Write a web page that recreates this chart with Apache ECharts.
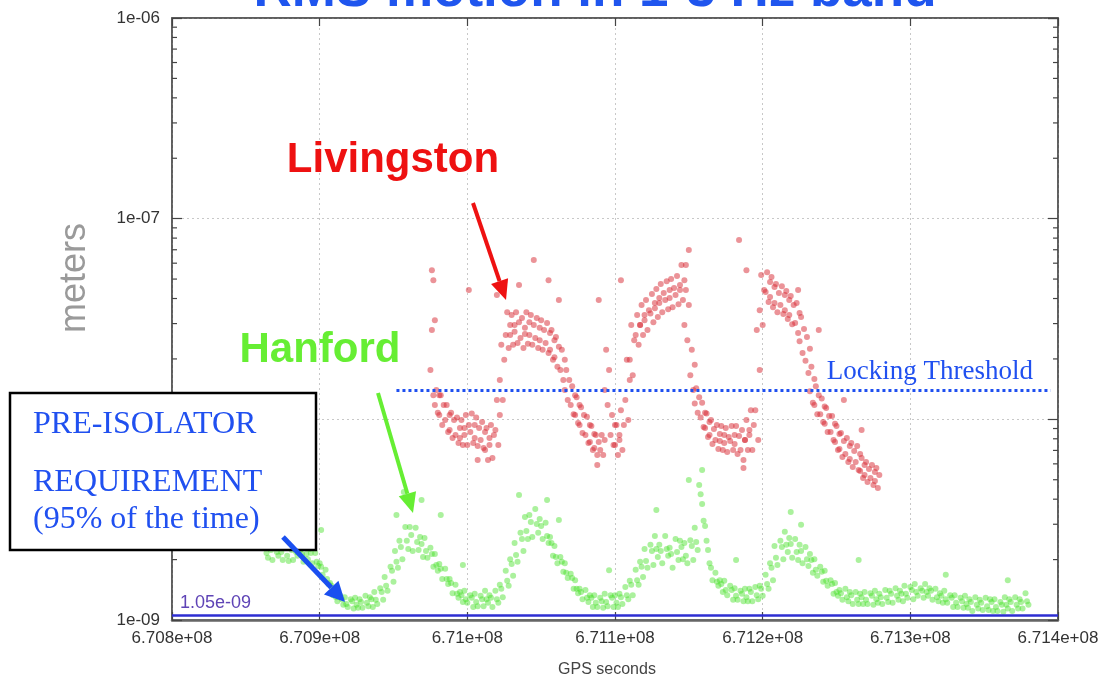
<!DOCTYPE html>
<html><head><meta charset="utf-8">
<script src="https://cdn.jsdelivr.net/npm/echarts@6/dist/echarts.min.js"></script>
<style>html,body{margin:0;padding:0;background:#fff}#c{width:1111px;height:691px}</style>
</head><body><div id="c"></div>
<script>
// ---- axis ticks & labels ----
const xTicks = [670800e3, 670900e3, 671000e3, 671100e3, 671200e3, 671300e3, 671400e3];
const xTickLabels = ['6.708e+08', '6.709e+08', '6.71e+08', '6.711e+08', '6.712e+08', '6.713e+08', '6.714e+08'];
const yTicks = [1e-9, 1e-8, 1e-7, 1e-6];
const yTickLabels = ['1e-09', '1e-08', '1e-07', '1e-06'];
const yMinorTicks = [2e-9,3e-9,4e-9,5e-9,6e-9,7e-9,8e-9,9e-9,2e-8,3e-8,4e-8,5e-8,6e-8,7e-8,8e-8,9e-8,2e-7,3e-7,4e-7,5e-7,6e-7,7e-7,8e-7,9e-7];

// ---- reference levels ----
const preIsolatorRequirement = 1.05e-9;
const lockingThreshold = 1.40e-8;
const lockingThresholdStart = 670952e3;
const lockingThresholdEnd = 671395e3;

// ---- Hanford RMS motion (GPS seconds, meters) ----
const hanford = [
[670863e3,2.39e-9],[670864e3,2.16e-9],[670865e3,2.04e-9],[670866e3,2.34e-9],[670867e3,2.23e-9],[670868e3,1.99e-9],
[670870e3,2.42e-9],[670871e3,2.18e-9],[670872e3,2.09e-9],[670873e3,2.29e-9],[670874e3,2.18e-9],[670875e3,1.99e-9],
[670877e3,2.31e-9],[670878e3,2.09e-9],[670879e3,1.97e-9],[670880e3,2.34e-9],[670881e3,2.23e-9],[670882e3,1.99e-9],
[670883e3,2.42e-9],[670884e3,2.18e-9],[670885e3,2.09e-9],[670887e3,2.23e-9],[670888e3,2.13e-9],[670889e3,1.95e-9],
[670890e3,2.37e-9],[670891e3,2.13e-9],[670892e3,2.01e-9],[670893e3,2.26e-9],[670894e3,2.16e-9],[670895e3,1.92e-9],
[670897e3,2.16e-9],[670898e3,1.95e-9],[670899e3,1.86e-9],[670900e3,1.92e-9],[670901e3,1.84e-9],[670902e3,1.68e-9],
[670904e3,1.78e-9],[670905e3,1.60e-9],[670906e3,1.51e-9],[670907e3,1.53e-9],[670908e3,1.48e-9],[670909e3,1.33e-9],
[670910e3,1.43e-9],[670911e3,1.30e-9],[670912e3,1.24e-9],[670914e3,1.32e-9],[670915e3,1.27e-9],[670916e3,1.19e-9],
[670917e3,1.30e-9],[670918e3,1.20e-9],[670919e3,1.16e-9],[670921e3,1.27e-9],[670922e3,1.24e-9],[670923e3,1.14e-9],
[670924e3,1.29e-9],[670925e3,1.19e-9],[670926e3,1.15e-9],[670927e3,1.27e-9],[670928e3,1.23e-9],[670929e3,1.15e-9],
[670931e3,1.32e-9],[670932e3,1.22e-9],[670933e3,1.17e-9],[670934e3,1.30e-9],[670935e3,1.27e-9],[670936e3,1.16e-9],
[670937e3,1.38e-9],[670938e3,1.26e-9],[670939e3,1.20e-9],[670941e3,1.44e-9],[670942e3,1.38e-9],[670943e3,1.26e-9],
[670944e3,1.64e-9],[670945e3,1.48e-9],[670946e3,1.40e-9],[670948e3,1.84e-9],[670949e3,1.76e-9],[670950e3,1.55e-9],
[670951e3,2.21e-9],[670952e3,1.95e-9],[670953e3,1.82e-9],[670954e3,2.48e-9],[670955e3,2.31e-9],[670956e3,2.01e-9],
[670958e3,2.91e-9],[670959e3,2.48e-9],[670960e3,2.26e-9],[670961e3,2.91e-9],[670962e3,2.65e-9],[670963e3,2.21e-9],
[670965e3,2.88e-9],[670966e3,2.45e-9],[670967e3,2.23e-9],[670968e3,2.59e-9],[670969e3,2.39e-9],[670970e3,2.06e-9],
[670971e3,2.56e-9],[670972e3,2.21e-9],[670973e3,2.04e-9],[670975e3,2.29e-9],[670976e3,2.13e-9],[670977e3,1.84e-9],
[670978e3,2.13e-9],[670979e3,1.88e-9],[670980e3,1.76e-9],[670981e3,1.90e-9],[670982e3,1.80e-9],[670983e3,1.60e-9],
[670985e3,1.80e-9],[670986e3,1.60e-9],[670987e3,1.51e-9],[670988e3,1.60e-9],[670989e3,1.53e-9],[670990e3,1.36e-9],
[670992e3,1.50e-9],[670993e3,1.35e-9],[670994e3,1.29e-9],[670995e3,1.38e-9],[670996e3,1.33e-9],[670997e3,1.23e-9],
[670998e3,1.40e-9],[670999e3,1.27e-9],[671000e3,1.22e-9],[671002e3,1.33e-9],[671003e3,1.29e-9],[671004e3,1.16e-9],
[671005e3,1.35e-9],[671006e3,1.23e-9],[671007e3,1.17e-9],[671009e3,1.32e-9],[671010e3,1.27e-9],[671011e3,1.17e-9],
[671012e3,1.40e-9],[671013e3,1.27e-9],[671014e3,1.22e-9],[671015e3,1.33e-9],[671016e3,1.29e-9],[671017e3,1.16e-9],
[671019e3,1.40e-9],[671020e3,1.27e-9],[671021e3,1.22e-9],[671022e3,1.50e-9],[671023e3,1.43e-9],[671024e3,1.30e-9],
[671026e3,1.76e-9],[671027e3,1.57e-9],[671028e3,1.48e-9],[671029e3,2.01e-9],[671030e3,1.90e-9],[671031e3,1.66e-9],
[671032e3,2.42e-9],[671033e3,2.11e-9],[671034e3,1.95e-9],[671036e3,2.72e-9],[671037e3,2.53e-9],[671038e3,2.21e-9],
[671039e3,3.26e-9],[671040e3,2.78e-9],[671041e3,2.53e-9],[671042e3,3.34e-9],[671043e3,3.08e-9],[671044e3,2.59e-9],
[671046e3,3.57e-9],[671047e3,3.01e-9],[671048e3,2.72e-9],[671049e3,3.19e-9],[671050e3,2.94e-9],[671051e3,2.53e-9],
[671053e3,3.05e-9],[671054e3,2.62e-9],[671055e3,2.42e-9],[671056e3,2.59e-9],[671057e3,2.42e-9],[671058e3,2.09e-9],
[671059e3,2.34e-9],[671060e3,2.06e-9],[671061e3,1.92e-9],[671063e3,2.06e-9],[671064e3,1.95e-9],[671065e3,1.74e-9],
[671066e3,1.92e-9],[671067e3,1.72e-9],[671068e3,1.62e-9],[671070e3,1.70e-9],[671071e3,1.62e-9],[671072e3,1.43e-9],
[671073e3,1.58e-9],[671074e3,1.43e-9],[671075e3,1.36e-9],[671076e3,1.43e-9],[671077e3,1.38e-9],[671078e3,1.27e-9],
[671080e3,1.41e-9],[671081e3,1.29e-9],[671082e3,1.23e-9],[671083e3,1.33e-9],[671084e3,1.29e-9],[671085e3,1.16e-9],
[671086e3,1.33e-9],[671087e3,1.22e-9],[671088e3,1.16e-9],[671090e3,1.29e-9],[671091e3,1.24e-9],[671092e3,1.15e-9],
[671093e3,1.35e-9],[671094e3,1.23e-9],[671095e3,1.17e-9],[671097e3,1.33e-9],[671098e3,1.29e-9],[671099e3,1.16e-9],
[671100e3,1.33e-9],[671101e3,1.22e-9],[671102e3,1.16e-9],[671103e3,1.35e-9],[671104e3,1.30e-9],[671105e3,1.20e-9],
[671107e3,1.46e-9],[671108e3,1.33e-9],[671109e3,1.27e-9],[671110e3,1.57e-9],[671111e3,1.50e-9],[671112e3,1.33e-9],
[671114e3,1.78e-9],[671115e3,1.58e-9],[671116e3,1.50e-9],[671117e3,1.95e-9],[671118e3,1.84e-9],[671119e3,1.64e-9],
[671120e3,2.26e-9],[671121e3,1.97e-9],[671122e3,1.82e-9],[671124e3,2.37e-9],[671125e3,2.21e-9],[671126e3,1.88e-9],
[671127e3,2.62e-9],[671128e3,2.26e-9],[671129e3,2.06e-9],[671130e3,2.37e-9],[671131e3,2.21e-9],[671132e3,1.92e-9],
[671134e3,2.62e-9],[671135e3,2.26e-9],[671136e3,2.09e-9],[671137e3,2.29e-9],[671138e3,2.13e-9],[671139e3,1.82e-9],
[671141e3,2.53e-9],[671142e3,2.18e-9],[671143e3,1.99e-9],[671144e3,2.48e-9],[671145e3,2.31e-9],[671146e3,2.01e-9],
[671147e3,2.42e-9],[671148e3,2.09e-9],[671149e3,1.92e-9],[671151e3,2.50e-9],[671152e3,2.34e-9],[671153e3,1.99e-9],
[671154e3,2.88e-9],[671155e3,2.45e-9],[671156e3,2.23e-9],[671158e3,4.23e-9],[671159e3,3.78e-9],[671160e3,3.12e-9],
[671161e3,2.94e-9],[671162e3,2.48e-9],[671163e3,2.23e-9],[671164e3,1.92e-9],[671165e3,1.82e-9],[671166e3,1.58e-9],
[671168e3,1.72e-9],[671169e3,1.55e-9],[671170e3,1.48e-9],[671171e3,1.58e-9],[671172e3,1.51e-9],[671173e3,1.38e-9],
[671174e3,1.57e-9],[671175e3,1.41e-9],[671176e3,1.33e-9],[671178e3,1.48e-9],[671179e3,1.41e-9],[671180e3,1.26e-9],
[671181e3,1.44e-9],[671182e3,1.32e-9],[671183e3,1.26e-9],[671185e3,1.40e-9],[671186e3,1.35e-9],[671187e3,1.24e-9],
[671188e3,1.43e-9],[671189e3,1.30e-9],[671190e3,1.24e-9],[671191e3,1.43e-9],[671192e3,1.38e-9],[671193e3,1.24e-9],
[671195e3,1.46e-9],[671196e3,1.33e-9],[671197e3,1.27e-9],[671198e3,1.48e-9],[671199e3,1.43e-9],[671200e3,1.32e-9],
[671202e3,1.68e-9],[671203e3,1.51e-9],[671204e3,1.43e-9],[671205e3,1.92e-9],[671206e3,1.82e-9],[671207e3,1.58e-9],
[671208e3,2.34e-9],[671209e3,2.04e-9],[671210e3,1.88e-9],[671212e3,2.48e-9],[671213e3,2.31e-9],[671214e3,2.01e-9],
[671215e3,2.75e-9],[671216e3,2.37e-9],[671217e3,2.18e-9],[671218e3,2.56e-9],[671219e3,2.39e-9],[671220e3,2.04e-9],
[671222e3,2.53e-9],[671223e3,2.18e-9],[671224e3,1.99e-9],[671225e3,2.37e-9],[671226e3,2.21e-9],[671227e3,1.92e-9],
[671229e3,2.31e-9],[671230e3,2.01e-9],[671231e3,1.86e-9],[671232e3,2.13e-9],[671233e3,1.99e-9],[671234e3,1.72e-9],
[671235e3,2.01e-9],[671236e3,1.78e-9],[671237e3,1.66e-9],[671239e3,1.84e-9],[671240e3,1.74e-9],[671241e3,1.55e-9],
[671242e3,1.76e-9],[671243e3,1.57e-9],[671244e3,1.48e-9],[671246e3,1.58e-9],[671247e3,1.51e-9],[671248e3,1.35e-9],
[671249e3,1.53e-9],[671250e3,1.38e-9],[671251e3,1.32e-9],[671252e3,1.41e-9],[671253e3,1.36e-9],[671254e3,1.26e-9],
[671256e3,1.43e-9],[671257e3,1.30e-9],[671258e3,1.24e-9],[671259e3,1.38e-9],[671260e3,1.33e-9],[671261e3,1.20e-9],
[671263e3,1.38e-9],[671264e3,1.26e-9],[671265e3,1.20e-9],[671266e3,1.35e-9],[671267e3,1.30e-9],[671268e3,1.20e-9],
[671269e3,1.38e-9],[671270e3,1.26e-9],[671271e3,1.20e-9],[671273e3,1.36e-9],[671274e3,1.32e-9],[671275e3,1.19e-9],
[671276e3,1.40e-9],[671277e3,1.27e-9],[671278e3,1.22e-9],[671279e3,1.35e-9],[671280e3,1.30e-9],[671281e3,1.20e-9],
[671283e3,1.41e-9],[671284e3,1.29e-9],[671285e3,1.23e-9],[671286e3,1.40e-9],[671287e3,1.35e-9],[671288e3,1.22e-9],
[671290e3,1.44e-9],[671291e3,1.32e-9],[671292e3,1.26e-9],[671293e3,1.40e-9],[671294e3,1.35e-9],[671295e3,1.24e-9],
[671296e3,1.48e-9],[671297e3,1.35e-9],[671298e3,1.29e-9],[671300e3,1.46e-9],[671301e3,1.41e-9],[671302e3,1.27e-9],
[671303e3,1.51e-9],[671304e3,1.38e-9],[671305e3,1.32e-9],[671307e3,1.44e-9],[671308e3,1.40e-9],[671309e3,1.29e-9],
[671310e3,1.51e-9],[671311e3,1.38e-9],[671312e3,1.32e-9],[671313e3,1.44e-9],[671314e3,1.40e-9],[671315e3,1.26e-9],
[671317e3,1.43e-9],[671318e3,1.30e-9],[671319e3,1.24e-9],[671320e3,1.36e-9],[671321e3,1.32e-9],[671322e3,1.22e-9],
[671323e3,1.40e-9],[671324e3,1.27e-9],[671325e3,1.22e-9],[671327e3,1.33e-9],[671328e3,1.29e-9],[671329e3,1.16e-9],
[671330e3,1.33e-9],[671331e3,1.22e-9],[671332e3,1.16e-9],[671334e3,1.29e-9],[671335e3,1.24e-9],[671336e3,1.15e-9],
[671337e3,1.32e-9],[671338e3,1.20e-9],[671339e3,1.15e-9],[671340e3,1.27e-9],[671341e3,1.23e-9],[671342e3,1.11e-9],
[671344e3,1.30e-9],[671345e3,1.19e-9],[671346e3,1.14e-9],[671347e3,1.26e-9],[671348e3,1.22e-9],[671349e3,1.12e-9],
[671351e3,1.29e-9],[671352e3,1.17e-9],[671353e3,1.12e-9],[671354e3,1.27e-9],[671355e3,1.23e-9],[671356e3,1.11e-9],
[671357e3,1.27e-9],[671358e3,1.16e-9],[671359e3,1.11e-9],[671361e3,1.23e-9],[671362e3,1.19e-9],[671363e3,1.10e-9],
[671364e3,1.30e-9],[671365e3,1.19e-9],[671366e3,1.14e-9],[671367e3,1.27e-9],[671368e3,1.23e-9],[671369e3,1.11e-9],
[671371e3,1.30e-9],[671372e3,1.19e-9],[671373e3,1.14e-9],[671374e3,1.27e-9],[671375e3,1.23e-9],[671376e3,1.14e-9],
[671378e3,1.36e-9],[671379e3,1.24e-9],[671380e3,1.19e-9],
[670952e3,3.34e-9],[670957e3,4.34e-9],[670969e3,3.96e-9],[670982e3,3.34e-9],[671035e3,4.20e-9],[671054e3,3.96e-9],
[671062e3,3.15e-9],[671128e3,3.53e-9],[671150e3,4.98e-9],[671159e3,5.59e-9],[671157e3,4.71e-9],[671219e3,3.45e-9],
[671226e3,2.98e-9],[671265e3,1.99e-9],[671324e3,1.68e-9],[671366e3,1.58e-9],[670901e3,2.81e-9],[670997e3,1.88e-9],
[671096e3,1.77e-9],[671182e3,1.99e-9]
];

// ---- Livingston RMS motion (GPS seconds, meters) ----
const livingston = [
[670976e3,5.54e-8],[670978e3,3.12e-8],[670975e3,1.76e-8],[670977e3,1.32e-8],
[670979e3,1.40e-8],[670981e3,1.32e-8],[670978e3,1.18e-8],[670980e3,1.08e-8],
[670982e3,1.32e-8],[670984e3,1.18e-8],[670981e3,1.05e-8],[670983e3,9.37e-9],
[670986e3,1.18e-8],[670988e3,1.05e-8],[670985e3,9.92e-9],[670987e3,8.65e-9],
[670989e3,1.08e-8],[670991e3,9.92e-9],[670988e3,8.85e-9],[670990e3,8.08e-9],
[670993e3,1.02e-8],[670995e3,9.05e-9],[670992e3,8.35e-9],[670994e3,7.62e-9],
[670996e3,9.92e-9],[670998e3,9.05e-9],[670995e3,8.08e-9],[670997e3,7.45e-9],
[670999e3,1.05e-8],[671001e3,9.37e-9],[670998e3,8.35e-9],[671000e3,7.45e-9],
[671003e3,1.07e-8],[671005e3,9.37e-9],[671002e3,8.65e-9],[671004e3,7.62e-9],
[671006e3,1.02e-8],[671008e3,9.05e-9],[671005e3,8.08e-9],[671007e3,7.36e-9],
[671010e3,9.70e-9],[671012e3,8.65e-9],[671009e3,7.89e-9],[671011e3,7.20e-9],
[671013e3,9.05e-9],[671015e3,8.08e-9],[671012e3,7.03e-9],[671014e3,6.27e-9],
[671016e3,9.37e-9],[671018e3,8.35e-9],[671015e3,7.45e-9],[671017e3,6.42e-9],
[671020e3,1.25e-8],[671022e3,1.05e-8],[671019e3,8.85e-9],[671021e3,7.45e-9],
[671023e3,2.35e-8],[671025e3,1.98e-8],[671022e3,1.57e-8],[671024e3,1.25e-8],
[671027e3,3.42e-8],[671029e3,2.95e-8],[671026e3,2.63e-8],[671028e3,2.27e-8],
[671030e3,3.31e-8],[671032e3,2.95e-8],[671029e3,2.63e-8],[671031e3,2.35e-8],
[671033e3,3.42e-8],[671035e3,3.05e-8],[671032e3,2.73e-8],[671034e3,2.40e-8],
[671037e3,3.20e-8],[671039e3,2.86e-8],[671036e3,2.54e-8],[671038e3,2.27e-8],
[671040e3,3.42e-8],[671042e3,3.05e-8],[671039e3,2.66e-8],[671041e3,2.38e-8],
[671043e3,3.31e-8],[671045e3,2.95e-8],[671042e3,2.63e-8],[671044e3,2.35e-8],
[671047e3,3.20e-8],[671049e3,2.86e-8],[671046e3,2.54e-8],[671048e3,2.27e-8],
[671050e3,3.12e-8],[671052e3,2.79e-8],[671049e3,2.48e-8],[671051e3,2.22e-8],
[671054e3,3.02e-8],[671056e3,2.69e-8],[671053e3,2.40e-8],[671055e3,2.14e-8],
[671057e3,2.79e-8],[671059e3,2.48e-8],[671056e3,2.22e-8],[671058e3,1.98e-8],
[671060e3,2.57e-8],[671062e3,2.30e-8],[671059e3,2.04e-8],[671061e3,1.83e-8],
[671064e3,2.22e-8],[671066e3,1.98e-8],[671063e3,1.76e-8],[671065e3,1.57e-8],
[671067e3,1.76e-8],[671069e3,1.57e-8],[671066e3,1.40e-8],[671068e3,1.25e-8],
[671071e3,1.46e-8],[671073e3,1.32e-8],[671070e3,1.18e-8],[671072e3,1.06e-8],
[671074e3,1.29e-8],[671076e3,1.18e-8],[671073e3,1.05e-8],[671075e3,9.59e-9],
[671077e3,1.15e-8],[671079e3,1.05e-8],[671076e3,9.37e-9],[671078e3,8.54e-9],
[671081e3,1.03e-8],[671083e3,9.37e-9],[671080e3,8.35e-9],[671082e3,7.62e-9],
[671084e3,9.26e-9],[671086e3,8.45e-9],[671083e3,7.71e-9],[671085e3,7.03e-9],
[671087e3,8.35e-9],[671089e3,7.71e-9],[671086e3,7.20e-9],[671088e3,6.64e-9],
[671091e3,8.35e-9],[671093e3,7.89e-9],[671090e3,7.03e-9],[671092e3,6.64e-9],
[671094e3,2.22e-8],[671096e3,1.76e-8],[671093e3,1.40e-8],[671095e3,1.18e-8],
[671098e3,1.05e-8],[671100e3,9.37e-9],[671097e3,8.35e-9],[671099e3,7.45e-9],
[671101e3,9.37e-9],[671103e3,8.35e-9],[671100e3,7.45e-9],[671102e3,6.64e-9],
[671104e3,1.11e-8],[671106e3,9.37e-9],[671103e3,7.89e-9],[671105e3,7.03e-9],
[671108e3,1.98e-8],[671110e3,1.57e-8],[671107e3,1.25e-8],[671109e3,9.92e-9],
[671111e3,2.95e-8],[671113e3,2.48e-8],[671110e3,1.98e-8],[671112e3,1.66e-8],
[671115e3,3.31e-8],[671117e3,2.95e-8],[671114e3,2.63e-8],[671116e3,2.35e-8],
[671118e3,3.71e-8],[671120e3,3.31e-8],[671117e3,2.95e-8],[671119e3,2.63e-8],
[671121e3,3.93e-8],[671123e3,3.50e-8],[671120e3,3.12e-8],[671122e3,2.79e-8],
[671125e3,4.21e-8],[671127e3,3.80e-8],[671124e3,3.37e-8],[671126e3,3.05e-8],
[671128e3,4.46e-8],[671130e3,4.02e-8],[671127e3,3.58e-8],[671129e3,3.24e-8],
[671131e3,4.72e-8],[671133e3,4.26e-8],[671130e3,3.80e-8],[671132e3,3.42e-8],
[671135e3,4.88e-8],[671137e3,4.41e-8],[671134e3,3.93e-8],[671136e3,3.54e-8],
[671138e3,5.00e-8],[671140e3,4.51e-8],[671137e3,4.02e-8],[671139e3,3.62e-8],
[671142e3,5.18e-8],[671144e3,4.67e-8],[671141e3,4.16e-8],[671143e3,3.75e-8],
[671145e3,5.87e-8],[671147e3,4.94e-8],[671144e3,4.41e-8],[671146e3,3.93e-8],
[671148e3,4.41e-8],[671150e3,3.71e-8],[671147e3,2.95e-8],[671149e3,2.48e-8],
[671152e3,2.22e-8],[671154e3,1.87e-8],[671151e3,1.66e-8],[671153e3,1.40e-8],
[671155e3,1.43e-8],[671157e3,1.29e-8],[671154e3,1.20e-8],[671156e3,1.08e-8],
[671159e3,1.21e-8],[671161e3,1.08e-8],[671158e3,1.02e-8],[671160e3,9.15e-9],
[671162e3,1.07e-8],[671164e3,9.70e-9],[671161e3,9.05e-9],[671163e3,8.16e-9],
[671165e3,9.92e-9],[671167e3,8.95e-9],[671164e3,8.35e-9],[671166e3,7.53e-9],
[671169e3,9.37e-9],[671171e3,8.45e-9],[671168e3,7.89e-9],[671170e3,7.11e-9],
[671172e3,9.26e-9],[671174e3,8.35e-9],[671171e3,7.80e-9],[671173e3,7.03e-9],
[671175e3,9.05e-9],[671177e3,8.16e-9],[671174e3,7.62e-9],[671176e3,6.87e-9],
[671179e3,9.26e-9],[671181e3,8.35e-9],[671178e3,7.80e-9],[671180e3,7.03e-9],
[671182e3,9.26e-9],[671184e3,8.26e-9],[671181e3,7.53e-9],[671183e3,6.72e-9],
[671186e3,8.85e-9],[671188e3,7.89e-9],[671185e3,7.03e-9],[671187e3,6.27e-9],
[671189e3,9.92e-9],[671191e3,8.85e-9],[671188e3,7.89e-9],[671190e3,7.03e-9],
[671192e3,1.11e-8],[671194e3,9.37e-9],[671191e3,8.35e-9],[671193e3,7.03e-9],
[671196e3,2.79e-8],[671198e3,1.76e-8],[671195e3,1.11e-8],[671197e3,7.89e-9],
[671199e3,5.24e-8],[671201e3,4.41e-8],[671198e3,3.50e-8],[671200e3,2.95e-8],
[671203e3,5.41e-8],[671205e3,4.83e-8],[671202e3,4.31e-8],[671204e3,3.84e-8],
[671206e3,5.12e-8],[671208e3,4.56e-8],[671205e3,4.07e-8],[671207e3,3.62e-8],
[671209e3,4.72e-8],[671211e3,4.26e-8],[671208e3,3.80e-8],[671210e3,3.42e-8],
[671213e3,4.61e-8],[671215e3,4.16e-8],[671212e3,3.71e-8],[671214e3,3.35e-8],
[671216e3,4.36e-8],[671218e3,3.93e-8],[671215e3,3.50e-8],[671217e3,3.16e-8],
[671219e3,4.12e-8],[671221e3,3.71e-8],[671218e3,3.31e-8],[671220e3,2.98e-8],
[671223e3,3.80e-8],[671225e3,3.39e-8],[671222e3,3.02e-8],[671224e3,2.69e-8],
[671226e3,3.24e-8],[671228e3,2.82e-8],[671225e3,2.45e-8],[671227e3,2.14e-8],
[671230e3,2.57e-8],[671232e3,2.25e-8],[671229e3,1.96e-8],[671231e3,1.70e-8],
[671233e3,1.83e-8],[671235e3,1.59e-8],[671232e3,1.38e-8],[671234e3,1.21e-8],
[671236e3,1.46e-8],[671238e3,1.32e-8],[671235e3,1.18e-8],[671237e3,1.06e-8],
[671240e3,1.27e-8],[671242e3,1.16e-8],[671239e3,1.06e-8],[671241e3,9.70e-9],
[671243e3,1.14e-8],[671245e3,1.04e-8],[671242e3,9.50e-9],[671244e3,8.65e-9],
[671247e3,1.04e-8],[671249e3,9.50e-9],[671246e3,8.65e-9],[671248e3,7.89e-9],
[671250e3,9.26e-9],[671252e3,8.45e-9],[671249e3,7.71e-9],[671251e3,7.03e-9],
[671253e3,8.55e-9],[671255e3,7.80e-9],[671252e3,7.11e-9],[671254e3,6.49e-9],
[671257e3,8.08e-9],[671259e3,7.36e-9],[671256e3,6.72e-9],[671258e3,6.13e-9],
[671260e3,7.62e-9],[671262e3,6.95e-9],[671259e3,6.34e-9],[671261e3,5.78e-9],
[671264e3,7.36e-9],[671266e3,6.72e-9],[671263e3,6.13e-9],[671265e3,5.59e-9],
[671267e3,6.42e-9],[671269e3,5.92e-9],[671266e3,5.52e-9],[671268e3,5.10e-9],
[671270e3,6.13e-9],[671272e3,5.65e-9],[671269e3,5.28e-9],[671271e3,4.87e-9],
[671274e3,5.92e-9],[671276e3,5.46e-9],[671273e3,5.10e-9],[671275e3,4.71e-9],
[671277e3,5.72e-9],[671279e3,5.28e-9],[671276e3,4.93e-9],[671278e3,4.55e-9],
[670977e3,4.94e-8],[670976e3,2.79e-8],[671001e3,4.41e-8],[671020e3,4.16e-8],[671035e3,4.67e-8],[671045e3,6.22e-8],
[671055e3,4.94e-8],[671062e3,3.93e-8],[671089e3,3.93e-8],[671104e3,4.94e-8],[671150e3,6.98e-8],[671148e3,5.87e-8],
[671184e3,7.82e-8],[671189e3,5.54e-8],[671224e3,4.41e-8],[671238e3,2.79e-8],[671255e3,1.25e-8],[671267e3,8.85e-9],
[671007e3,6.27e-9],[671088e3,5.92e-9],[671187e3,5.72e-9]
];

const chart = echarts.init(document.getElementById('c'), null, {renderer: 'canvas'});
const X_MIN = xTicks[0], X_MAX = xTicks[xTicks.length - 1];
const tickFont = '"Liberation Sans", Arial, sans-serif';
const serif = '"Liberation Serif", "Times New Roman", serif';

function xLabel(v) { const i = xTicks.findIndex(t => Math.abs(t - v) < 1); return i >= 0 ? xTickLabels[i] : ''; }
function yLabel(v) { const i = yTicks.findIndex(t => Math.abs(t - v) / t < 1e-3); return i >= 0 ? yTickLabels[i] : ''; }

function arrow(x1, y1, x2, y2, color, w, hl, hw) {
  const dx = x2 - x1, dy = y2 - y1, L = Math.hypot(dx, dy), ux = dx / L, uy = dy / L;
  const bx = x2 - ux * hl, by = y2 - uy * hl;
  return [
    {type: 'line', z: 100, shape: {x1, y1, x2: bx, y2: by}, style: {stroke: color, lineWidth: w}},
    {type: 'polygon', z: 100, shape: {points: [[x2, y2], [bx - uy * hw, by + ux * hw], [bx + uy * hw, by - ux * hw]]}, style: {fill: color}}
  ];
}

const axisCommon = {
  axisLine: {show: true, lineStyle: {color: '#555', width: 1.5}},
  axisTick: {show: true, inside: true, length: 8, lineStyle: {color: '#444', width: 1.2}},
  splitLine: {show: false}
};

chart.setOption({
  animation: false,
  backgroundColor: '#fff',
  grid: {left: 172, right: 53, top: 18, bottom: 71, show: true, borderColor: '#555', borderWidth: 1.5},
  xAxis: [
    Object.assign({}, axisCommon, {type: 'value', min: X_MIN, max: X_MAX, interval: 100000, position: 'bottom',
      axisLine: {show: true, lineStyle: {color: '#666', width: 2.5}},
      axisLabel: {formatter: xLabel, fontSize: 17, fontFamily: tickFont, color: '#333', margin: 10},
      splitLine: {show: true, lineStyle: {color: '#c8c8c8', type: [2, 3], width: 1}}}),
    Object.assign({}, axisCommon, {type: 'value', min: X_MIN, max: X_MAX, interval: 100000, position: 'top',
      axisLabel: {show: false}})
  ],
  yAxis: [
    Object.assign({}, axisCommon, {type: 'log', logBase: 10, min: 1e-9, max: 1e-6, position: 'left',
      axisLabel: {formatter: yLabel, fontSize: 17, fontFamily: tickFont, color: '#333', margin: 12},
      axisTick: {show: true, inside: true, length: 10, lineStyle: {color: '#444', width: 1.2}},
      splitLine: {show: true, lineStyle: {color: '#c8c8c8', type: [2, 3], width: 1}}}),
    Object.assign({}, axisCommon, {type: 'log', logBase: 10, min: 1e-9, max: 1e-6, position: 'right',
      axisTick: {show: true, inside: true, length: 10, lineStyle: {color: '#444', width: 1.2}},
      axisLabel: {show: false}})
  ],
  series: [
    {
      type: 'scatter', name: 'Hanford', data: hanford, symbolSize: 6,
      itemStyle: {color: '#44e026', opacity: 0.45},
      markLine: {
        silent: true, symbol: 'none', animation: false,
        lineStyle: {color: '#2e2ed2', type: 'solid', width: 2.5},
        label: {show: true, position: 'insideStartTop', formatter: '1.05e-09', color: '#5f44b6',
          fontSize: 18, fontFamily: tickFont, distance: [8, 4]},
        data: [[{coord: [X_MIN, preIsolatorRequirement]}, {coord: [X_MAX, preIsolatorRequirement]}]]
      }
    },
    {
      type: 'scatter', name: 'Livingston', data: livingston, symbolSize: 6,
      itemStyle: {color: '#d82832', opacity: 0.5},
      markLine: {
        silent: true, symbol: 'none', animation: false,
        lineStyle: {color: '#1f50f0', type: [3, 3], width: 3},
        label: {show: false},
        data: [[{coord: [lockingThresholdStart, lockingThreshold]}, {coord: [lockingThresholdEnd, lockingThreshold]}]]
      }
    },
    {
      type: 'custom', silent: true, clip: false,
      data: yMinorTicks.map(v => [X_MIN, v]),
      encode: {x: 0, y: 1},
      renderItem: function (params, api) {
        const cs = params.coordSys;
        const y = api.coord([api.value(0), api.value(1)])[1];
        const st = {stroke: '#444', lineWidth: 1.2};
        return {type: 'group', children: [
          {type: 'line', shape: {x1: cs.x, y1: y, x2: cs.x + 5, y2: y}, style: st},
          {type: 'line', shape: {x1: cs.x + cs.width - 5, y1: y, x2: cs.x + cs.width, y2: y}, style: st}
        ]};
      }
    }
  ],
  graphic: [
    {type: 'text', z: 100, x: 595, y: -9, style: {text: 'RMS motion in 1-3 Hz band', font: 'bold 53px "Liberation Sans", Arial, sans-serif', fill: '#1f55ee', align: 'center', verticalAlign: 'middle'}},
    {type: 'text', z: 100, x: 75, y: 278, rotation: Math.PI / 2, style: {text: 'meters', font: '36px "Liberation Sans", Arial, sans-serif', fill: '#9a9a9a', align: 'center', verticalAlign: 'middle'}},
    {type: 'text', z: 100, x: 607, y: 670, style: {text: 'GPS seconds', font: '16px "Liberation Sans", Arial, sans-serif', fill: '#444', align: 'center', verticalAlign: 'middle'}},
    {type: 'text', z: 100, x: 393, y: 160, style: {text: 'Livingston', font: 'bold 42px "Liberation Sans", Arial, sans-serif', fill: '#ee1111', align: 'center', verticalAlign: 'middle'}},
    {type: 'text', z: 100, x: 320, y: 350, style: {text: 'Hanford', font: 'bold 42px "Liberation Sans", Arial, sans-serif', fill: '#66ee33', align: 'center', verticalAlign: 'middle'}},
    ...arrow(473, 203, 506, 300, '#ee1111', 4, 20, 9),
    ...arrow(378, 393, 413, 513, '#66ee33', 4, 20, 9),
    {type: 'rect', z: 100, shape: {x: 10, y: 393, width: 306, height: 157}, style: {fill: '#fff', stroke: '#000', lineWidth: 2.5}},
    {type: 'text', z: 101, x: 33, y: 425, style: {text: 'PRE-ISOLATOR', font: '32px ' + serif, fill: '#2050f0', align: 'left', verticalAlign: 'middle'}},
    {type: 'text', z: 101, x: 33, y: 483, style: {text: 'REQUIREMENT', font: '32px ' + serif, fill: '#2050f0', align: 'left', verticalAlign: 'middle'}},
    {type: 'text', z: 101, x: 33, y: 520, style: {text: '(95% of the time)', font: '32px ' + serif, fill: '#2050f0', align: 'left', verticalAlign: 'middle'}},
    ...arrow(283, 537, 345, 602, '#1a4ff0', 5, 20, 10),
    {type: 'text', z: 100, x: 1033, y: 372, style: {text: 'Locking Threshold', font: '27px ' + serif, fill: '#2050f0', align: 'right', verticalAlign: 'middle'}}
  ]
});
</script>
</body></html>
